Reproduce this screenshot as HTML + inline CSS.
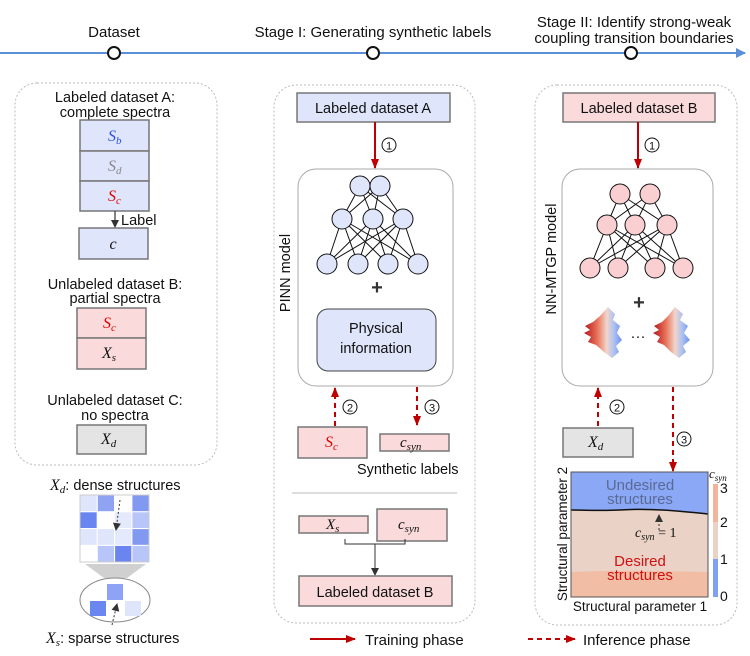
<!DOCTYPE html>
<html><head><meta charset="utf-8"><style>
html,body{margin:0;padding:0;background:#fff}
svg{display:block}
text{font-family:"Liberation Sans",sans-serif;fill:#111}
.m{font-family:"Liberation Serif",serif;font-style:italic}
</style></head><body>
<svg width="750" height="656" viewBox="0 0 750 656" xmlns="http://www.w3.org/2000/svg">
<defs>
<marker id="ab" markerWidth="10" markerHeight="10" refX="9" refY="5" orient="auto" markerUnits="userSpaceOnUse"><path d="M0,0 L10,5 L0,10 Z" fill="#5b8fd8"/></marker>
<marker id="ar" markerWidth="10" markerHeight="10" refX="9" refY="5" orient="auto" markerUnits="userSpaceOnUse"><path d="M0,1 L10,5 L0,9 Z" fill="#c00000"/></marker>
<marker id="ak" markerWidth="8" markerHeight="8" refX="7" refY="4" orient="auto" markerUnits="userSpaceOnUse"><path d="M0,0 L8,4 L0,8 Z" fill="#333"/></marker>
<linearGradient id="bl" x1="0" x2="1" y1="0" y2="0"><stop offset="0" stop-color="#b5121b"/><stop offset="0.35" stop-color="#e8735a"/><stop offset="0.6" stop-color="#f1d6cc"/><stop offset="0.8" stop-color="#a9c0f3"/><stop offset="1" stop-color="#6d8ff0"/></linearGradient>
</defs>

<!-- timeline -->
<line x1="0" y1="53" x2="745" y2="53" stroke="#5b8fd8" stroke-width="2" marker-end="url(#ab)"/>
<circle cx="114" cy="53" r="6" fill="#fff" stroke="#111" stroke-width="2"/>
<circle cx="373" cy="53" r="6" fill="#fff" stroke="#111" stroke-width="2"/>
<circle cx="631" cy="53" r="6" fill="#fff" stroke="#111" stroke-width="2"/>
<text x="114" y="37" font-size="15" text-anchor="middle">Dataset</text>
<text x="373" y="37" font-size="15" text-anchor="middle">Stage I: Generating synthetic labels</text>
<text x="634" y="27" font-size="15" text-anchor="middle">Stage II: Identify strong-weak</text>
<text x="634" y="43" font-size="15" text-anchor="middle">coupling transition boundaries</text>

<!-- left box -->
<rect x="15" y="83" width="202" height="382" rx="22" fill="none" stroke="#bbb" stroke-dasharray="2,2"/>
<text x="115" y="102" font-size="14.5" text-anchor="middle">Labeled dataset A:</text>
<text x="115" y="117" font-size="14.5" text-anchor="middle">complete spectra</text>
<rect x="80" y="120" width="69" height="31" fill="#dfe5fb" stroke="#777" stroke-width="1.5"/>
<rect x="80" y="151" width="69" height="30" fill="#dfe5fb" stroke="#777" stroke-width="1.5"/>
<rect x="80" y="181" width="69" height="30" fill="#dfe5fb" stroke="#777" stroke-width="1.5"/>
<text x="108" y="141" class="m" font-size="16" style="fill:#2a50e0">S<tspan font-size="11" dy="3">b</tspan></text>
<text x="108" y="171" class="m" font-size="16" style="fill:#888">S<tspan font-size="11" dy="3">d</tspan></text>
<text x="108" y="201" class="m" font-size="16" style="fill:#e00000">S<tspan font-size="11" dy="3">c</tspan></text>
<line x1="115" y1="211" x2="115" y2="227" stroke="#333" stroke-width="1.2" marker-end="url(#ak)"/>
<text x="121" y="225" font-size="14.5">Label</text>
<rect x="79" y="228" width="69" height="31" fill="#dfe5fb" stroke="#777" stroke-width="1.5"/>
<text x="113" y="249" class="m" font-size="16" text-anchor="middle">c</text>
<text x="115" y="289" font-size="14.5" text-anchor="middle">Unlabeled dataset B:</text>
<text x="115" y="303" font-size="14.5" text-anchor="middle">partial spectra</text>
<rect x="77" y="308" width="69" height="30" fill="#fadadb" stroke="#777" stroke-width="1.5"/>
<rect x="77" y="338" width="69" height="31" fill="#fadadb" stroke="#777" stroke-width="1.5"/>
<text x="103" y="328" class="m" font-size="16" style="fill:#e00000">S<tspan font-size="11" dy="3">c</tspan></text>
<text x="102" y="358" class="m" font-size="16">X<tspan font-size="11" dy="3">s</tspan></text>
<text x="115" y="405" font-size="14.5" text-anchor="middle">Unlabeled dataset C:</text>
<text x="115" y="420" font-size="14.5" text-anchor="middle">no spectra</text>
<rect x="77" y="425" width="69" height="29" fill="#e4e4e4" stroke="#777" stroke-width="1.5"/>
<text x="101" y="444" class="m" font-size="16">X<tspan font-size="11" dy="3">d</tspan></text>

<!-- dense grid -->
<text x="50" y="490" class="m" font-size="16">X<tspan font-size="11" dy="3">d</tspan><tspan dy="-3" font-family="Liberation Sans" font-style="normal" font-size="14.5">: dense structures</tspan></text>
<g stroke="#fff" stroke-width="1">
<rect x="80" y="495" width="17.3" height="16.8" fill="#dfe5fb"/><rect x="97.3" y="495" width="17.3" height="16.8" fill="#8fa3f3"/><rect x="114.6" y="495" width="17.3" height="16.8" fill="#fff"/><rect x="131.9" y="495" width="17.3" height="16.8" fill="#8199f1"/>
<rect x="80" y="511.8" width="17.3" height="16.8" fill="#6a84f0"/><rect x="97.3" y="511.8" width="17.3" height="16.8" fill="#fff"/><rect x="114.6" y="511.8" width="17.3" height="16.8" fill="#e4e9fc"/><rect x="131.9" y="511.8" width="17.3" height="16.8" fill="#b8c5f8"/>
<rect x="80" y="528.6" width="17.3" height="16.8" fill="#dfe5fb"/><rect x="97.3" y="528.6" width="17.3" height="16.8" fill="#dfe5fb"/><rect x="114.6" y="528.6" width="17.3" height="16.8" fill="#e4e9fc"/><rect x="131.9" y="528.6" width="17.3" height="16.8" fill="#8199f1"/>
<rect x="80" y="545.4" width="17.3" height="16.8" fill="#fff"/><rect x="97.3" y="545.4" width="17.3" height="16.8" fill="#b8c5f8"/><rect x="114.6" y="545.4" width="17.3" height="16.8" fill="#6a84f0"/><rect x="131.9" y="545.4" width="17.3" height="16.8" fill="#b8c5f8"/>
</g>
<rect x="80" y="495" width="69" height="67" fill="none" stroke="#ccc"/>
<line x1="120" y1="500" x2="116" y2="530" stroke="#333" stroke-dasharray="2,2" marker-end="url(#ak)"/>
<path d="M85,564 L146,564 L127,578 L104,578 Z" fill="#d0d0d0"/>
<ellipse cx="115" cy="600" rx="35" ry="22" fill="#fff" stroke="#888"/>
<rect x="107" y="584" width="16" height="16" fill="#8ea3f5"/>
<rect x="90" y="601" width="16" height="15" fill="#6b86f0"/>
<rect x="125" y="601" width="16" height="15" fill="#dfe5fb"/>
<line x1="112" y1="625" x2="117" y2="604" stroke="#333" stroke-dasharray="2,2" marker-end="url(#ak)"/>
<text x="46" y="643" class="m" font-size="16">X<tspan font-size="11" dy="3">s</tspan><tspan dy="-3" font-family="Liberation Sans" font-style="normal" font-size="14.5">: sparse structures</tspan></text>

<!-- middle box -->
<rect x="274" y="85" width="201" height="538" rx="22" fill="none" stroke="#bbb" stroke-dasharray="2,2"/>
<rect x="297" y="93" width="153" height="29" fill="#dfe5fb" stroke="#777" stroke-width="1.5"/>
<text x="373" y="113" font-size="14.5" text-anchor="middle">Labeled dataset A</text>
<line x1="375" y1="122" x2="375" y2="168" stroke="#c00000" stroke-width="2" marker-end="url(#ar)"/>
<circle cx="389" cy="145" r="7" fill="#fff" stroke="#111"/><text x="389" y="149.5" font-size="11" text-anchor="middle">1</text>
<rect x="298" y="169" width="155" height="217" rx="18" fill="#fff" stroke="#aaa"/>
<g stroke="#111" stroke-width="1">
<line x1="360" y1="186" x2="342" y2="219"/><line x1="360" y1="186" x2="373" y2="219"/><line x1="360" y1="186" x2="403" y2="219"/>
<line x1="380" y1="186" x2="342" y2="219"/><line x1="380" y1="186" x2="373" y2="219"/><line x1="380" y1="186" x2="403" y2="219"/>
<line x1="342" y1="219" x2="327" y2="264"/><line x1="342" y1="219" x2="358" y2="264"/><line x1="342" y1="219" x2="388" y2="264"/><line x1="342" y1="219" x2="418" y2="264"/>
<line x1="373" y1="219" x2="327" y2="264"/><line x1="373" y1="219" x2="358" y2="264"/><line x1="373" y1="219" x2="388" y2="264"/><line x1="373" y1="219" x2="418" y2="264"/>
<line x1="403" y1="219" x2="327" y2="264"/><line x1="403" y1="219" x2="358" y2="264"/><line x1="403" y1="219" x2="388" y2="264"/><line x1="403" y1="219" x2="418" y2="264"/>
</g>
<g fill="#dfe5fb" stroke="#111">
<circle cx="360" cy="186" r="10"/><circle cx="380" cy="186" r="10"/>
<circle cx="342" cy="219" r="10"/><circle cx="373" cy="219" r="10"/><circle cx="403" cy="219" r="10"/>
<circle cx="327" cy="264" r="10"/><circle cx="358" cy="264" r="10"/><circle cx="388" cy="264" r="10"/><circle cx="418" cy="264" r="10"/>
</g>
<text x="377" y="294" font-size="20" font-weight="bold" text-anchor="middle" style="fill:#333">+</text>
<rect x="317" y="309" width="119" height="62" rx="11" fill="#dfe5fb" stroke="#444"/>
<text x="376" y="333" font-size="14.5" text-anchor="middle">Physical</text>
<text x="376" y="353" font-size="14.5" text-anchor="middle">information</text>
<text transform="translate(290,273) rotate(-90)" font-size="14.5" text-anchor="middle">PINN model</text>
<line x1="335" y1="426" x2="335" y2="388" stroke="#c00000" stroke-width="2" stroke-dasharray="5,4" marker-end="url(#ar)"/>
<circle cx="350" cy="407" r="7" fill="#fff" stroke="#111"/><text x="350" y="411.5" font-size="11" text-anchor="middle">2</text>
<line x1="417" y1="387" x2="417" y2="425" stroke="#c00000" stroke-width="2" stroke-dasharray="5,4" marker-end="url(#ar)"/>
<circle cx="432" cy="407" r="7" fill="#fff" stroke="#111"/><text x="432" y="411.5" font-size="11" text-anchor="middle">3</text>
<rect x="298" y="427" width="69" height="31" fill="#fadadb" stroke="#777" stroke-width="1.5"/>
<text x="325" y="447" class="m" font-size="16" style="fill:#e00000">S<tspan font-size="11" dy="3">c</tspan></text>
<rect x="380" y="434" width="69" height="17" fill="#fadadb" stroke="#777" stroke-width="1.5"/>
<text x="400" y="447" class="m" font-size="15">c<tspan font-size="11" dy="3">syn</tspan></text>
<text x="357" y="474" font-size="14.5">Synthetic labels</text>
<line x1="292" y1="493" x2="457" y2="493" stroke="#bbb"/>
<rect x="299" y="516" width="69" height="17" fill="#fadadb" stroke="#777" stroke-width="1.5"/>
<text x="326" y="529" class="m" font-size="15">X<tspan font-size="11" dy="3">s</tspan></text>
<rect x="377" y="509" width="70" height="32" fill="#fadadb" stroke="#777" stroke-width="1.5"/>
<text x="398" y="529" class="m" font-size="15">c<tspan font-size="11" dy="3">syn</tspan></text>
<path d="M345,539 L345,544 L405,544 L405,539" fill="none" stroke="#333"/>
<line x1="375" y1="544" x2="375" y2="575" stroke="#333" marker-end="url(#ak)"/>
<rect x="299" y="576" width="153" height="30" fill="#fadadb" stroke="#777" stroke-width="1.5"/>
<text x="375" y="597" font-size="14.5" text-anchor="middle">Labeled dataset B</text>

<!-- right box -->
<rect x="535" y="85" width="202" height="540" rx="22" fill="none" stroke="#bbb" stroke-dasharray="2,2"/>
<rect x="563" y="93" width="152" height="29" fill="#fadadb" stroke="#777" stroke-width="1.5"/>
<text x="639" y="113" font-size="14.5" text-anchor="middle">Labeled dataset B</text>
<line x1="638" y1="122" x2="638" y2="168" stroke="#c00000" stroke-width="2" marker-end="url(#ar)"/>
<circle cx="652" cy="145" r="7" fill="#fff" stroke="#111"/><text x="652" y="149.5" font-size="11" text-anchor="middle">1</text>
<rect x="562" y="169" width="151" height="217" rx="18" fill="#fff" stroke="#aaa"/>
<g stroke="#111" stroke-width="1">
<line x1="620" y1="194" x2="607" y2="225"/><line x1="620" y1="194" x2="635" y2="225"/><line x1="620" y1="194" x2="667" y2="225"/>
<line x1="650" y1="194" x2="607" y2="225"/><line x1="650" y1="194" x2="635" y2="225"/><line x1="650" y1="194" x2="667" y2="225"/>
<line x1="607" y1="225" x2="590" y2="268"/><line x1="607" y1="225" x2="618" y2="268"/><line x1="607" y1="225" x2="655" y2="268"/><line x1="607" y1="225" x2="683" y2="268"/>
<line x1="635" y1="225" x2="590" y2="268"/><line x1="635" y1="225" x2="618" y2="268"/><line x1="635" y1="225" x2="655" y2="268"/><line x1="635" y1="225" x2="683" y2="268"/>
<line x1="667" y1="225" x2="590" y2="268"/><line x1="667" y1="225" x2="618" y2="268"/><line x1="667" y1="225" x2="655" y2="268"/><line x1="667" y1="225" x2="683" y2="268"/>
</g>
<g fill="#f9cfd2" stroke="#111">
<circle cx="620" cy="194" r="10"/><circle cx="650" cy="194" r="10"/>
<circle cx="607" cy="225" r="10"/><circle cx="635" cy="225" r="10"/><circle cx="667" cy="225" r="10"/>
<circle cx="590" cy="268" r="10"/><circle cx="618" cy="268" r="10"/><circle cx="655" cy="268" r="10"/><circle cx="683" cy="268" r="10"/>
</g>
<text x="639" y="309" font-size="20" font-weight="bold" text-anchor="middle" style="fill:#333">+</text>
<path d="M608,307 L615,314 L613,320 L620,326 L617,333 L622,340 L616,346 L619,352 L612,358 L604,352 L596,345 L588,342 L591,337 L584,333 L590,330 L585,326 L593,322 L600,316 Z" fill="url(#bl)"/>
<path d="M675,307 L683,314 L680,320 L688,326 L684,333 L690,340 L683,346 L686,352 L679,358 L671,352 L664,345 L657,342 L660,337 L653,333 L659,330 L654,326 L662,322 L668,316 Z" fill="url(#bl)"/>
<text x="638" y="341" font-size="15" text-anchor="middle">···</text>
<text transform="translate(556,259) rotate(-90)" font-size="14.5" text-anchor="middle">NN-MTGP model</text>
<line x1="598" y1="426" x2="598" y2="388" stroke="#c00000" stroke-width="2" stroke-dasharray="5,4" marker-end="url(#ar)"/>
<circle cx="617" cy="407" r="7" fill="#fff" stroke="#111"/><text x="617" y="411.5" font-size="11" text-anchor="middle">2</text>
<line x1="673" y1="387" x2="673" y2="471" stroke="#c00000" stroke-width="2" stroke-dasharray="5,4" marker-end="url(#ar)"/>
<circle cx="684" cy="439" r="7" fill="#fff" stroke="#111"/><text x="684" y="443.5" font-size="11" text-anchor="middle">3</text>
<rect x="563" y="428" width="70" height="29" fill="#e4e4e4" stroke="#777" stroke-width="1.5"/>
<text x="588" y="447" class="m" font-size="16">X<tspan font-size="11" dy="3">d</tspan></text>

<!-- chart -->
<rect x="571" y="472" width="137" height="125" fill="#ead2c6"/>
<path d="M571,472 L708,472 L708,514 C680,511 650,508 620,510 C600,511 585,510 571,510 Z" fill="#8aa8f6"/>
<path d="M571,510 C585,510 600,511 620,510 C650,508 680,511 708,514" fill="none" stroke="#111" stroke-width="1.5"/>
<path d="M571,572 C620,570 660,571 708,572 L708,597 L571,597 Z" fill="#f2bda5"/>
<rect x="571" y="472" width="137" height="125" fill="none" stroke="#555"/>
<text x="640" y="490" font-size="15" text-anchor="middle" style="fill:#5a6a95">Undesired</text>
<text x="640" y="504" font-size="15" text-anchor="middle" style="fill:#5a6a95">structures</text>
<line x1="659" y1="530" x2="659" y2="515" stroke="#333" stroke-dasharray="2,2" marker-end="url(#ak)"/>
<text x="635" y="537" class="m" font-size="14">c<tspan font-size="10" dy="3">syn</tspan><tspan dy="-3" font-style="normal"> = 1</tspan></text>
<text x="640" y="566" font-size="15" text-anchor="middle" style="fill:#d01010">Desired</text>
<text x="640" y="580" font-size="15" text-anchor="middle" style="fill:#d01010">structures</text>
<rect x="713" y="484" width="5" height="38" fill="#f3b49c"/>
<rect x="713" y="522" width="5" height="37" fill="#ead2c6"/>
<rect x="713" y="559" width="5" height="38" fill="#7fa0f3"/>
<text x="720" y="493" font-size="14">3</text>
<text x="720" y="527" font-size="14">2</text>
<text x="720" y="564" font-size="14">1</text>
<text x="720" y="601" font-size="14">0</text>
<text x="709" y="478" class="m" font-size="13">c<tspan font-size="9" dy="3">syn</tspan></text>
<text transform="translate(567,534) rotate(-90)" font-size="13.5" text-anchor="middle">Structural parameter 2</text>
<text x="640" y="611" font-size="13.5" text-anchor="middle">Structural parameter 1</text>

<!-- legend -->
<line x1="310" y1="639" x2="355" y2="639" stroke="#c00000" stroke-width="2" marker-end="url(#ar)"/>
<text x="365" y="645" font-size="15">Training phase</text>
<line x1="528" y1="639" x2="575" y2="639" stroke="#c00000" stroke-width="2" stroke-dasharray="5,4" marker-end="url(#ar)"/>
<text x="583" y="645" font-size="15">Inference phase</text>
</svg>
</body></html>
